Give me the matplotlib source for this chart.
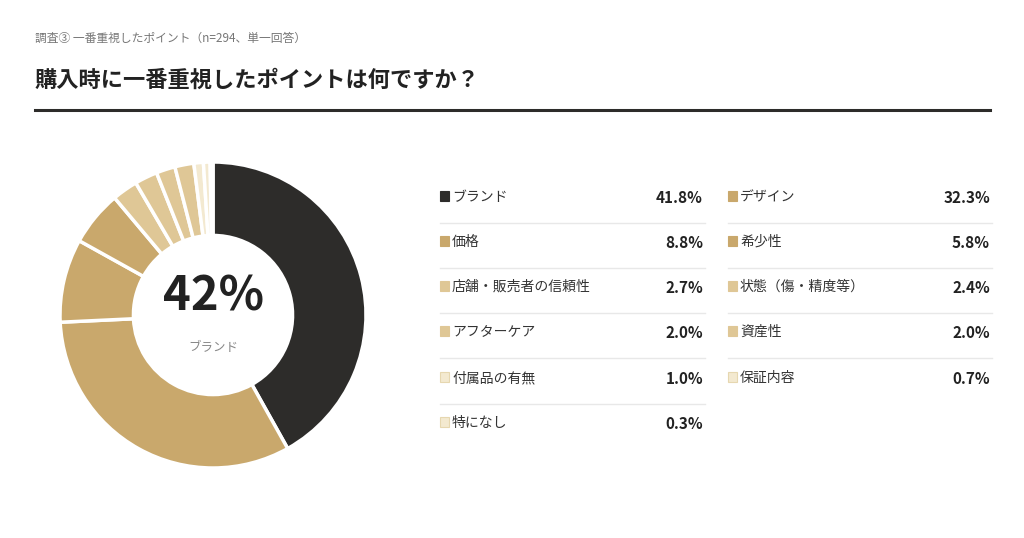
import matplotlib
matplotlib.use("Agg")
import matplotlib.pyplot as plt
from matplotlib.patches import Rectangle
from matplotlib.lines import Line2D

plt.rcParams['font.family'] = ['Noto Sans CJK JP', 'DejaVu Sans']

# データ
labels = ['ブランド', 'デザイン', '価格', '希少性', '店舗・販売者の信頼性', '状態（傷・精度等）',
          'アフターケア', '資産性', '付属品の有無', '保証内容', '特になし']
values = [41.8, 32.3, 8.8, 5.8, 2.7, 2.4, 2.0, 2.0, 1.0, 0.7, 0.3]
colors = ['#2d2c2a', '#c9a86c', '#c9a86c', '#c9a86c', '#dfc796', '#dfc796',
          '#dfc796', '#dfc796', '#f3e9d0', '#f3e9d0', '#f3e9d0']
edge_cols = ['#2d2c2a', '#c9a86c', '#c9a86c', '#c9a86c', '#dfc796', '#dfc796',
             '#dfc796', '#dfc796', '#e6d7b0', '#e6d7b0', '#e6d7b0']

W, H = 1024, 538
fig = plt.figure(figsize=(W / 100, H / 100), dpi=100)
fig.patch.set_facecolor('white')


def fx(x):
    return x / W


def fy(y):
    return 1 - y / H


# タイトル
fig.text(fx(35), fy(38), '調査③ 一番重視したポイント（n=294、単一回答）', fontsize=8.5,
         color='#777777', va='center', ha='left')
fig.text(fx(35), fy(80), '購入時に一番重視したポイントは何ですか？', fontsize=16,
         fontweight='bold', color='#222222', va='center', ha='left')
fig.add_artist(Line2D([fx(35), fx(990)], [fy(110), fy(110)], color='#2d2c2a',
                      linewidth=2.2, transform=fig.transFigure))

# ドーナツ
cx, cy, r = 213, 315, 153
ax = fig.add_axes([fx(cx - r), fy(cy + r), 2 * r / W, 2 * r / H])
ax.pie(values, colors=colors, startangle=90, counterclock=False, radius=1,
       wedgeprops=dict(width=0.48, edgecolor='white', linewidth=2.5))
ax.set_xlim(-1.0, 1.0)
ax.set_ylim(-1.0, 1.0)
ax.set_aspect('equal')
ax.axis('off')
ax.text(0, 0.12, f'{round(values[0])}%', ha='center', va='center', fontsize=34,
        fontweight='bold', color='#222222')
ax.text(0, -0.21, labels[0], ha='center', va='center', fontsize=9, color='#888888')

# 凡例（2列）
col_x = [(440, 703), (728, 990)]
row_y = [197, 242, 287, 332, 378, 423]
for i, (lab, val) in enumerate(zip(labels, values)):
    col = i % 2
    row = i // 2
    x0, x1 = col_x[col]
    y = row_y[row]
    fig.add_artist(Rectangle((fx(x0), fy(y + 4)), 9 / W, 10 / H, facecolor=colors[i],
                             edgecolor=edge_cols[i], linewidth=0.8,
                             transform=fig.transFigure))
    fig.text(fx(x0 + 12), fy(y), lab, fontsize=10, color='#333333',
             va='center', ha='left')
    fig.text(fx(x1), fy(y + 1), f'{val:.1f}%', fontsize=11, fontweight='bold',
             color='#222222', va='center', ha='right')
    if i + 2 < len(labels):
        ly = y + 26
        fig.add_artist(Line2D([fx(x0), fx(x1 + 2)], [fy(ly), fy(ly)], color='#e8e8e8',
                              linewidth=1, transform=fig.transFigure))

fig.savefig('out.png', dpi=100, facecolor='white')
